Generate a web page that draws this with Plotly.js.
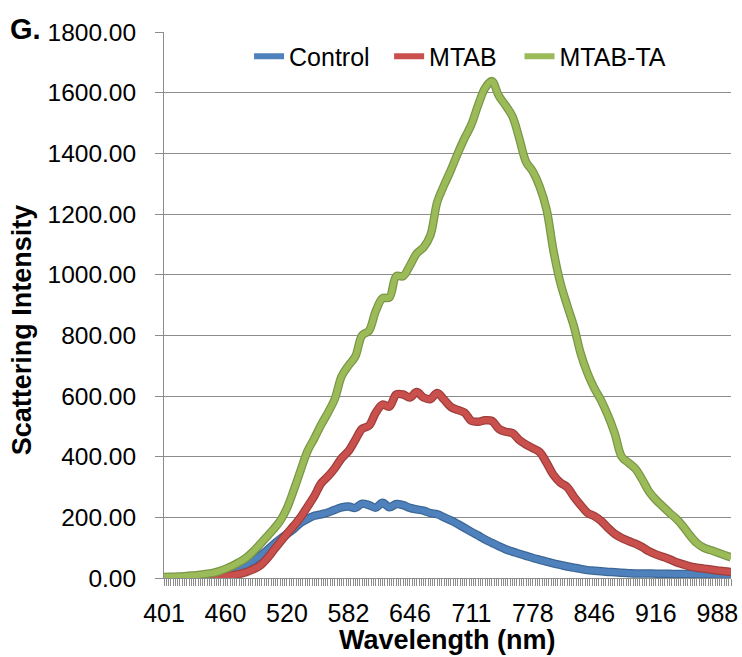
<!DOCTYPE html>
<html>
<head>
<meta charset="utf-8">
<script src="https://cdn.plot.ly/plotly-3.0.1.min.js"></script>
<style>html,body{margin:0;padding:0;background:#fff;}#chart{width:742px;height:657px;}</style>
</head>
<body>
<div id="chart"></div>
<script>
// Labelled wavelengths (nm) on the category axis
const wavelengthLabels = [401, 460, 520, 582, 646, 711, 778, 846, 916, 988];
const stepsPerLabel = 27;   // categories between two labels
const extraAfterLast = 6;   // categories after the last label

// Build the full category list (wavelengths) between the labels
const categories = [];
for (let i = 0; i < wavelengthLabels.length - 1; i++) {
  const a = wavelengthLabels[i], b = wavelengthLabels[i + 1];
  for (let k = 0; k < stepsPerLabel; k++) categories.push(String(Math.round(a + (b - a) * k / stepsPerLabel)));
}
const lastL = wavelengthLabels[wavelengthLabels.length - 1];
const lastStep = (lastL - wavelengthLabels[wavelengthLabels.length - 2]) / stepsPerLabel;
categories.push(String(lastL));
for (let k = 1; k <= extraAfterLast; k++) categories.push(String(Math.round(lastL + lastStep * k)));

// Sampled wavelengths (every 3rd category)
const sampleWavelengths = categories.filter((c, i) => i % 3 === 0);

const control = [
  0, 1, 1, 2, 3, 4, 6, 8, 12, 18, 26, 34,
  44, 57, 72, 90, 110, 128, 145, 162, 182, 195, 205, 210,
  216, 225, 233, 236, 231, 245, 240, 232, 248, 233, 244, 240,
  231, 226, 222, 214, 210, 200, 190, 178, 165, 152, 140, 127,
  116, 105, 95, 87, 80, 73, 66, 60, 54, 48, 43, 38,
  34, 30, 26, 24, 22, 20, 19, 17, 16, 15, 15, 15,
  14, 14, 14, 13, 13, 13, 12, 12, 12, 11, 11, 11
];
const mtab = [
  0, 0, 0, 1, 1, 2, 2, 3, 4, 6, 9, 13,
  19, 28, 40, 62, 90, 118, 146, 172, 200, 235, 270, 312,
  335, 362, 395, 418, 455, 492, 502, 545, 572, 565, 605, 605,
  595, 613, 595, 590, 610, 588, 564, 554, 545, 518, 515, 520,
  518, 492, 482, 478, 455, 440, 428, 415, 380, 340, 315, 300,
  268, 240, 215, 204, 188, 165, 145, 132, 122, 113, 102, 88,
  78, 70, 62, 52, 45, 38, 34, 31, 28, 25, 22, 20
];
const mtabTA = [
  3, 4, 5, 6, 8, 10, 13, 16, 22, 30, 40, 52,
  66, 86, 110, 135, 160, 188, 230, 290, 355, 418, 460, 505,
  545, 590, 665, 700, 730, 800, 815, 880, 922, 925, 995, 995,
  1030, 1070, 1090, 1130, 1240, 1295, 1345, 1400, 1450, 1495, 1560, 1615,
  1638, 1590, 1558, 1522, 1450, 1372, 1340, 1290, 1215, 1080, 975, 900,
  830, 740, 675, 625, 585, 535, 475, 400, 380, 360, 325, 285,
  258, 236, 215, 195, 170, 140, 115, 100, 92, 84, 76, 68
];

const seriesNames = ['Control', 'MTAB', 'MTAB-TA'];
const seriesData = [control, mtab, mtabTA];
const mainColors = ['#4F81BD', '#C9504D', '#9BBB59'];
const edgeColors = ['#3C6796', '#9E3E3B', '#7A9646'];
const legendIds = ['legend', 'legend2', 'legend3'];

const traces = [];
seriesData.forEach((vals, i) => {
  traces.push({
    x: sampleWavelengths, y: vals, type: 'scatter', mode: 'lines',
    line: {color: edgeColors[i], width: 8.5, shape: 'spline', smoothing: 1.0},
    showlegend: false, hoverinfo: 'skip'
  });
  traces.push({
    x: sampleWavelengths, y: vals, type: 'scatter', mode: 'lines', name: seriesNames[i],
    legend: legendIds[i],
    line: {color: mainColors[i], width: 6, shape: 'spline', smoothing: 1.0}
  });
});

const labelSet = new Set(wavelengthLabels.map(String));
const tickText = categories.map(c => labelSet.has(c) ? c : '');

const gridGray = '#8C8C8C';
const fam = 'Liberation Sans, Arial, sans-serif';
function legendAt(xp) {
  return {
    orientation: 'h', x: xp, xanchor: 'left', y: 0.955, yanchor: 'middle',
    font: {size: 25, family: fam}, bgcolor: 'rgba(0,0,0,0)'
  };
}
const layout = {
  width: 742, height: 657,
  margin: {l: 164, r: 11, t: 32, b: 79},
  paper_bgcolor: '#ffffff', plot_bgcolor: '#ffffff',
  font: {family: fam, color: '#000000'},
  showlegend: true,
  legend: legendAt(0.150),
  legend2: legendAt(0.397),
  legend3: legendAt(0.627),
  xaxis: {
    type: 'category', categoryorder: 'array', categoryarray: categories,
    range: [0, categories.length - 1], autorange: false,
    tickmode: 'array', tickvals: categories, ticktext: tickText,
    ticks: 'outside', ticklen: 7, tickwidth: 1, tickcolor: gridGray,
    showline: true, linecolor: gridGray, linewidth: 1,
    showgrid: false, zeroline: false,
    tickfont: {size: 25}, ticklabelstandoff: 6
  },
  yaxis: {
    range: [0, 1800], autorange: false, dtick: 200, tick0: 0,
    tickformat: '.2f',
    ticks: 'outside', ticklen: 8, tickwidth: 1, tickcolor: gridGray,
    showline: true, linecolor: gridGray, linewidth: 1,
    showgrid: true, gridcolor: gridGray, gridwidth: 1,
    zeroline: false, tickfont: {size: 24.5}, ticklabelstandoff: 14
  },
  annotations: [
    {text: '<b>G.</b>', xref: 'paper', yref: 'paper', x: -0.275, y: 1.005, xanchor: 'left', yanchor: 'middle',
     showarrow: false, font: {size: 29, family: fam}},
    {text: '<b>Scattering Intensity</b>', xref: 'paper', yref: 'paper', x: -0.25, y: (578 - 330) / 546,
     xanchor: 'center', yanchor: 'middle', textangle: -90, showarrow: false,
     font: {size: 27, family: fam}},
    {text: '<b>Wavelength (nm)</b>', xref: 'paper', yref: 'paper', x: 0.5, y: (578 - 640) / 546,
     xanchor: 'center', yanchor: 'middle', showarrow: false,
     font: {size: 27, family: fam}}
  ]
};

Plotly.newPlot('chart', traces, layout, {displayModeBar: false, staticPlot: true});
</script>
</body>
</html>
